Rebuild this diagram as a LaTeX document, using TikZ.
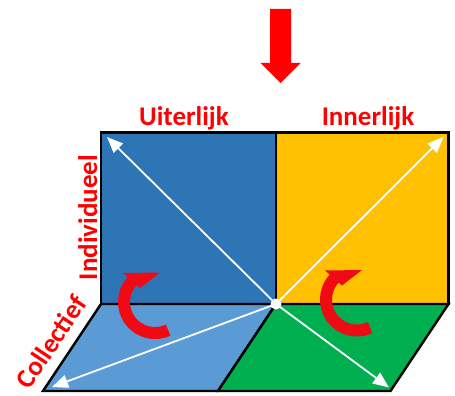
\documentclass[tikz,border=0pt]{standalone}
\usepackage{fontspec}
\setmainfont{Carlito}
\usetikzlibrary{arrows.meta}
\definecolor{qblue}{RGB}{46,117,182}
\definecolor{qyellow}{RGB}{255,192,0}
\definecolor{qlblue}{RGB}{91,155,213}
\definecolor{qgreen}{RGB}{0,176,80}
\definecolor{qred}{RGB}{255,0,0}
\definecolor{curlred}{RGB}{240,10,20}
\tikzset{
  quad/.style={draw=black,line width=2.4pt,line join=miter},
  lbl/.style={text=qred,font=\fontsize{27}{30}\selectfont\bfseries,inner sep=0pt},
  ray/.style={draw=white,line width=1.8pt,-{Triangle[length=16pt,width=13pt]}},
  curl/.pic={
    \draw[curlred,line width=12pt] (65:31) arc[start angle=65,end angle=226,radius=31];
    \fill[curlred] (-32,-29) -- (5,-29.5) -- (-15,-14) -- cycle;
  }
}
\begin{document}
\begin{tikzpicture}[x=1pt,y=-1pt]
\useasboundingbox (0,0) rectangle (455,396);
% corners
\coordinate (TL) at (101,132.5);
\coordinate (TM) at (276,132.5);
\coordinate (TR) at (448.5,132.5);
\coordinate (ML) at (101,304);
\coordinate (c)  at (276,304);
\coordinate (MR) at (448.5,304);
\coordinate (BL) at (43,391);
\coordinate (BM) at (218,391);
\coordinate (BR) at (390.5,391);
% quadrants
\filldraw[quad,fill=qblue] (TL) rectangle (c);
\filldraw[quad,fill=qyellow] (TM) rectangle (MR);
\filldraw[quad,fill=qlblue] (ML) -- (c) -- (BM) -- (BL) -- cycle;
\filldraw[quad,fill=qgreen] (c) -- (MR) -- (BR) -- (BM) -- cycle;
% arrow tips
\coordinate (tipTL) at (107,137);
\coordinate (tipTR) at (443.5,137);
\coordinate (tipBL) at (52,387);
\coordinate (tipBR) at (389,387.5);
\draw[ray] (c) -- (tipTL);
\draw[ray] (c) -- (tipTR);
\draw[ray] (c) -- (tipBL);
\draw[ray] (c) -- (tipBR);
\fill[white] (c) circle[radius=5.5];
% curved arrows
\pic at (155,302) {curl};
\pic at (357,299.5) {curl};
% down arrow
\fill[qred] (270,9) -- (291,9) -- (291,63) -- (300.5,63) -- (280.5,83) -- (260.5,63) -- (270,63) -- cycle;
% labels
\node[lbl,anchor=base] (ui) at (184,125) {Uiterlijk};
\node[lbl,anchor=base] (in) at (368,125) {Innerlijk};
\node[lbl,anchor=base,rotate=90] (ind) at (97,217.5) {Individueel};
\node[lbl,rotate=56.3] (col) at (51,342) {Collectief};
\end{tikzpicture}
\end{document}
